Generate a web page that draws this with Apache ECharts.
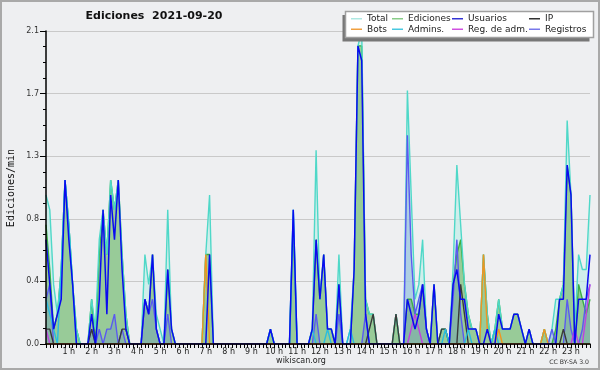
<!DOCTYPE html>
<html>
<head>
<meta charset="utf-8">
<script src="https://cdn.jsdelivr.net/npm/echarts@6.0.0/dist/echarts.min.js"></script>
<style>
html, body { margin: 0; padding: 0; background: #eeeff1; }
#chart { width: 600px; height: 370px; }
</style>
</head>
<body>
<div id="chart"></div>
<script>
// one value every 10 minutes, edits per minute
const total = [
	1.0, 0.9, 0.4, 0.2, 0.5, 1.1, 0.8, 0.4, 0.1, 0, 0, 0,
	0.3, 0.1, 0.7, 0.9, 0.6, 1.1, 0.9, 1.1, 0.6, 0.2, 0, 0,
	0, 0, 0.6, 0.4, 0.6, 0.2, 0.1, 0, 0.9, 0.1, 0, 0,
	0, 0, 0, 0, 0, 0, 0.6, 1.0, 0, 0, 0, 0,
	0, 0, 0, 0, 0, 0, 0, 0, 0, 0, 0, 0.1,
	0, 0, 0, 0, 0, 0.9, 0, 0, 0, 0, 0.1, 1.3,
	0.3, 0.6, 0.1, 0.1, 0, 0.6, 0, 0, 0.1, 0.5, 2.0, 2.1,
	0.3, 0.2, 0.2, 0, 0, 0, 0, 0, 0.2, 0, 0, 1.7,
	1.0, 0.3, 0.4, 0.7, 0.1, 0, 0.4, 0, 0.1, 0.1, 0, 0.5,
	1.2, 0.8, 0.4, 0.2, 0.1, 0.1, 0, 0.6, 0.2, 0, 0.1, 0.3,
	0.1, 0.1, 0.1, 0.2, 0.2, 0.1, 0, 0.1, 0, 0, 0, 0.1,
	0, 0.1, 0.3, 0.3, 0.4, 1.5, 1.0, 0.1, 0.6, 0.5, 0.5, 1.0
];
const ediciones = [
	0.8, 0.5, 0.1, 0.2, 0.5, 1.1, 0.8, 0.4, 0.1, 0, 0, 0,
	0.3, 0, 0.6, 0.9, 0.6, 1.1, 0.9, 1.1, 0.6, 0.2, 0, 0,
	0, 0, 0.3, 0.2, 0.6, 0.1, 0, 0, 0.5, 0.1, 0, 0,
	0, 0, 0, 0, 0, 0, 0.6, 0.6, 0, 0, 0, 0,
	0, 0, 0, 0, 0, 0, 0, 0, 0, 0, 0, 0.1,
	0, 0, 0, 0, 0, 0.8, 0, 0, 0, 0, 0.1, 0.7,
	0.3, 0.6, 0.1, 0.1, 0, 0.4, 0, 0, 0, 0.5, 2.0, 2.0,
	0.3, 0.2, 0.2, 0, 0, 0, 0, 0, 0.2, 0, 0, 0.3,
	0.3, 0.2, 0.2, 0.4, 0.1, 0, 0.4, 0, 0.1, 0.1, 0, 0.4,
	0.6, 0.7, 0.4, 0.2, 0.1, 0.1, 0, 0.6, 0.2, 0, 0.1, 0.3,
	0.1, 0.1, 0.1, 0.2, 0.2, 0.1, 0, 0.1, 0, 0, 0, 0.1,
	0, 0, 0.1, 0.3, 0.4, 1.2, 1.0, 0, 0.4, 0.3, 0.2, 0.3
];
const usuarios = [
	0.7, 0.4, 0.1, 0.2, 0.3, 1.1, 0.7, 0.4, 0, 0, 0, 0,
	0.2, 0, 0.3, 0.9, 0.2, 1.0, 0.7, 1.1, 0.5, 0.1, 0, 0,
	0, 0, 0.3, 0.2, 0.6, 0.1, 0, 0, 0.5, 0.1, 0, 0,
	0, 0, 0, 0, 0, 0, 0, 0.6, 0, 0, 0, 0,
	0, 0, 0, 0, 0, 0, 0, 0, 0, 0, 0, 0.1,
	0, 0, 0, 0, 0, 0.9, 0, 0, 0, 0, 0.1, 0.7,
	0.3, 0.6, 0.1, 0.1, 0, 0.4, 0, 0, 0, 0.5, 2.0, 1.9,
	0.2, 0, 0, 0, 0, 0, 0, 0, 0, 0, 0, 0.3,
	0.2, 0.1, 0.2, 0.4, 0.1, 0, 0.4, 0, 0, 0, 0, 0.4,
	0.5, 0.3, 0.3, 0.1, 0.1, 0.1, 0, 0, 0.1, 0, 0, 0.2,
	0.1, 0.1, 0.1, 0.2, 0.2, 0.1, 0, 0.1, 0, 0, 0, 0,
	0, 0, 0, 0.3, 0.3, 1.2, 1.0, 0, 0.3, 0.3, 0.3, 0.6
];
const ip = [
	0.1, 0.1, 0, 0, 0, 0, 0, 0, 0, 0, 0, 0,
	0.1, 0, 0, 0, 0, 0, 0, 0, 0.1, 0.1, 0, 0,
	0, 0, 0, 0, 0, 0, 0, 0, 0, 0, 0, 0,
	0, 0, 0, 0, 0, 0, 0, 0, 0, 0, 0, 0,
	0, 0, 0, 0, 0, 0, 0, 0, 0, 0, 0, 0,
	0, 0, 0, 0, 0, 0, 0, 0, 0, 0, 0, 0,
	0, 0, 0, 0, 0, 0, 0, 0, 0, 0, 0, 0,
	0, 0.1, 0.2, 0, 0, 0, 0, 0, 0.2, 0, 0, 0,
	0, 0, 0, 0, 0, 0, 0, 0, 0.1, 0.1, 0, 0,
	0, 0.4, 0.2, 0, 0, 0, 0, 0, 0, 0, 0, 0,
	0, 0, 0, 0, 0, 0, 0, 0, 0, 0, 0, 0,
	0, 0, 0, 0, 0.1, 0, 0, 0, 0, 0, 0, 0
];
const bots = [
	0, 0, 0, 0, 0, 0, 0, 0, 0, 0, 0, 0,
	0, 0, 0, 0, 0, 0, 0, 0, 0, 0, 0, 0,
	0, 0, 0, 0, 0, 0, 0, 0, 0, 0, 0, 0,
	0, 0, 0, 0, 0, 0, 0.6, 0, 0, 0, 0, 0,
	0, 0, 0, 0, 0, 0, 0, 0, 0, 0, 0, 0,
	0, 0, 0, 0, 0, 0, 0, 0, 0, 0, 0, 0,
	0, 0, 0, 0, 0, 0, 0, 0, 0, 0, 0, 0,
	0, 0, 0, 0, 0, 0, 0, 0, 0, 0, 0, 0,
	0, 0, 0, 0, 0, 0, 0, 0, 0, 0, 0, 0,
	0, 0, 0, 0, 0, 0, 0, 0.6, 0.1, 0, 0, 0.1,
	0, 0, 0, 0, 0, 0, 0, 0, 0, 0, 0, 0.1,
	0, 0, 0, 0, 0, 0, 0, 0, 0, 0, 0, 0
];
const admins = [
	0.3, 0.2, 0.1, 0, 0.5, 1.1, 0.8, 0.4, 0, 0, 0, 0,
	0, 0, 0, 0, 0, 0, 0, 0, 0, 0, 0, 0,
	0, 0, 0, 0, 0, 0, 0, 0, 0, 0, 0, 0,
	0, 0, 0, 0, 0, 0, 0, 0, 0, 0, 0, 0,
	0, 0, 0, 0, 0, 0, 0, 0, 0, 0, 0, 0.1,
	0, 0, 0, 0, 0, 0.9, 0, 0, 0, 0, 0.1, 0,
	0, 0, 0.1, 0, 0, 0, 0, 0, 0.1, 0, 0, 0,
	0, 0, 0, 0, 0, 0, 0, 0, 0, 0, 0, 0,
	0, 0, 0, 0, 0, 0, 0, 0, 0, 0.1, 0, 0,
	0, 0, 0, 0.1, 0, 0, 0, 0, 0, 0, 0.1, 0,
	0, 0, 0, 0, 0, 0, 0, 0, 0, 0, 0, 0,
	0, 0, 0, 0, 0, 0, 0, 0, 0, 0, 0, 0
];
const regAdm = [
	0.1, 0, 0, 0, 0, 0, 0, 0, 0, 0, 0, 0,
	0, 0, 0, 0, 0, 0, 0, 0, 0, 0, 0, 0,
	0, 0, 0, 0, 0, 0, 0, 0, 0, 0, 0, 0,
	0, 0, 0, 0, 0, 0, 0, 0, 0, 0, 0, 0,
	0, 0, 0, 0, 0, 0, 0, 0, 0, 0, 0, 0,
	0, 0, 0, 0, 0, 0, 0, 0, 0, 0, 0, 0,
	0, 0, 0, 0, 0, 0, 0, 0, 0, 0, 0, 0,
	0, 0, 0, 0, 0, 0, 0, 0, 0, 0, 0, 0,
	0.1, 0.2, 0.1, 0, 0, 0, 0, 0, 0, 0, 0, 0,
	0, 0, 0, 0, 0, 0, 0, 0, 0, 0, 0, 0,
	0, 0, 0, 0, 0, 0, 0, 0, 0, 0, 0, 0,
	0, 0, 0, 0, 0, 0, 0, 0.1, 0, 0, 0.2, 0.4
];
const registros = [
	0.3, 0.4, 0, 0, 0, 0, 0, 0, 0, 0, 0, 0,
	0.1, 0, 0.1, 0, 0.1, 0.1, 0.2, 0, 0.1, 0, 0, 0,
	0, 0, 0.3, 0.2, 0.3, 0.1, 0, 0, 0.2, 0, 0, 0,
	0, 0, 0, 0, 0, 0, 0, 0, 0, 0, 0, 0,
	0, 0, 0, 0, 0, 0, 0, 0, 0, 0, 0, 0,
	0, 0, 0, 0, 0, 0, 0, 0, 0, 0, 0, 0.2,
	0, 0, 0, 0, 0, 0.2, 0, 0, 0, 0, 0, 0,
	0.2, 0, 0, 0, 0, 0, 0, 0, 0, 0, 0, 1.4,
	0.6, 0.2, 0.3, 0.4, 0.1, 0, 0, 0, 0, 0, 0, 0.3,
	0.7, 0.2, 0, 0, 0, 0, 0, 0, 0, 0, 0, 0,
	0, 0, 0, 0, 0, 0, 0, 0, 0, 0, 0, 0,
	0, 0.1, 0, 0, 0, 0.3, 0.1, 0, 0, 0.1, 0.3, 0.4
];
const yTicks = { min: 0, max: 2.1, step: 0.42 };

const font = '"DejaVu Sans", sans-serif';

// 10-minute slots for the category axis
const slots = [];
for ( let i = 0; i < total.length; i++ ) {
	slots.push( Math.floor( i / 6 ) + ':' + String( ( i % 6 ) * 10 ).padStart( 2, '0' ) );
}

const lineColors = {
	Total: '#4fd8c8',
	Ediciones: '#3cb043',
	Usuarios: '#0a0af0',
	IP: '#3a3a3a',
	Bots: '#f09420',
	'Admins.': '#28bce0',
	'Reg. de adm.': '#c040e0',
	Registros: '#5a5af0'
};
const legendColors = {
	Total: '#aee8e2',
	Ediciones: '#88cc88',
	Usuarios: '#3434d4',
	IP: '#333333',
	Bots: '#f0a040',
	'Admins.': '#48c8e0',
	'Reg. de adm.': '#d050e0',
	Registros: '#7878ea'
};

function makeLine( name, data, width ) {
	return {
		name: name,
		type: 'line',
		data: data,
		symbol: 'none',
		showSymbol: false,
		animation: false,
		lineStyle: { color: lineColors[ name ], width: width || 1.4 },
		itemStyle: { color: lineColors[ name ] }
	};
}

function makeArea( id, data, fill ) {
	return {
		name: id,
		type: 'line',
		data: data,
		symbol: 'none',
		showSymbol: false,
		animation: false,
		silent: true,
		lineStyle: { width: 0 },
		areaStyle: { color: fill, opacity: 1 }
	};
}

const legendColumns = [
	{ left: 351, names: [ 'Total', 'Bots' ] },
	{ left: 392, names: [ 'Ediciones', 'Admins.' ] },
	{ left: 452, names: [ 'Usuarios', 'Reg. de adm.' ] },
	{ left: 529, names: [ 'IP', 'Registros' ] }
];

const legends = legendColumns.map( ( col ) => ( {
	orient: 'vertical',
	left: col.left,
	top: 13.5,
	padding: 0,
	itemGap: 0,
	itemWidth: 11,
	itemHeight: 1.5,
	icon: 'rect',
	selectedMode: false,
	z: 21,
	textStyle: { fontFamily: font, fontSize: 9, color: '#222', lineHeight: 10.5, padding: 0 },
	data: col.names.map( ( n ) => ( { name: n, itemStyle: { color: legendColors[ n ] } } ) )
} ) );

const chart = echarts.init( document.getElementById( 'chart' ), null, { renderer: 'canvas' } );

chart.setOption( {
	animation: false,
	backgroundColor: '#eeeff1',
	grid: { left: 46, right: 10, top: 31, bottom: 26 },
	legend: legends,
	xAxis: {
		type: 'category',
		data: slots,
		boundaryGap: false,
		z: 10,
		axisLine: { lineStyle: { color: '#000', width: 1.5 } },
		axisTick: { interval: 0, length: 4, lineStyle: { color: '#000' } },
		axisLabel: {
			interval: ( index ) => index % 6 === 0 && index > 0,
			formatter: ( v ) => v.split( ':' )[ 0 ] + ' h',
			fontFamily: font,
			fontSize: 8,
			color: '#222',
			margin: 4
		},
		splitLine: { show: false }
	},
	yAxis: [
		{
			type: 'value',
			min: yTicks.min,
			max: yTicks.max,
			interval: yTicks.step,
			z: 10,
			axisLine: { show: true, lineStyle: { color: '#000', width: 1.5 } },
			axisTick: { show: true, length: 6, lineStyle: { color: '#000' } },
			minorTick: { show: true, splitNumber: 4, length: 3, lineStyle: { color: '#000' } },
			splitLine: { show: false },
			axisLabel: {
				formatter: ( v ) => v.toFixed( 1 ),
				fontFamily: font,
				fontSize: 8,
				color: '#333',
				margin: 7
			}
		},
		{
			type: 'value',
			min: yTicks.min,
			max: yTicks.max,
			interval: yTicks.step,
			z: 0,
			axisLine: { show: false },
			axisTick: { show: false },
			axisLabel: { show: false },
			splitLine: { show: true, lineStyle: { color: '#c9c9c9', width: 1 } }
		}
	],
	series: [
		makeArea( 'total-area', total, 'rgba(196,238,232,0.75)' ),
		makeArea( 'ediciones-area', ediciones, '#98cb98' ),
		makeArea( 'registros-area', registros, 'rgba(90,130,205,0.28)' ),
		makeLine( 'Ediciones', ediciones ),
		makeLine( 'Total', total ),
		makeLine( 'Registros', registros ),
		makeLine( 'IP', ip ),
		makeLine( 'Admins.', admins ),
		makeLine( 'Reg. de adm.', regAdm ),
		makeLine( 'Bots', bots ),
		makeLine( 'Usuarios', usuarios, 1.5 )
	],
	graphic: {
		elements: [
			{
				type: 'rect',
				z: 30,
				shape: { x: 1, y: 1, width: 598, height: 368 },
				style: { fill: 'none', stroke: '#a9a9a9', lineWidth: 2 }
			},
			// legend box with its offset shadow
			{
				type: 'rect',
				z: 20,
				shape: { x: 342.5, y: 15, width: 247, height: 26.5 },
				style: { fill: '#777777' }
			},
			{
				type: 'rect',
				z: 20,
				shape: { x: 345.5, y: 11.5, width: 248, height: 26 },
				style: { fill: '#ffffff', stroke: '#a0a0a0', lineWidth: 1.5 }
			},
			{
				type: 'text',
				z: 20,
				x: 154,
				y: 16.5,
				style: {
					text: 'Ediciones  2021-09-20',
					font: 'bold 11px "DejaVu Sans"',
					fill: '#111',
					align: 'center',
					verticalAlign: 'middle',
					textAlign: 'center',
					textVerticalAlign: 'middle'
				}
			},
			{
				type: 'text',
				z: 20,
				x: 11,
				y: 188,
				rotation: Math.PI / 2,
				style: {
					text: 'Ediciones/min',
					font: '10px "DejaVu Sans Mono"',
					fill: '#111',
					align: 'center',
					verticalAlign: 'middle',
					textAlign: 'center',
					textVerticalAlign: 'middle'
				}
			},
			{
				type: 'text',
				z: 20,
				x: 301,
				y: 361,
				style: {
					text: 'wikiscan.org',
					font: '8px "DejaVu Sans"',
					fill: '#222',
					align: 'center',
					verticalAlign: 'middle',
					textAlign: 'center',
					textVerticalAlign: 'middle'
				}
			},
			{
				type: 'text',
				z: 20,
				x: 589,
				y: 362,
				style: {
					text: 'CC BY-SA 3.0',
					font: '6.2px "DejaVu Sans"',
					fill: '#333',
					align: 'right',
					verticalAlign: 'middle',
					textAlign: 'right',
					textVerticalAlign: 'middle'
				}
			}
		]
	}
} );
</script>
</body>
</html>
